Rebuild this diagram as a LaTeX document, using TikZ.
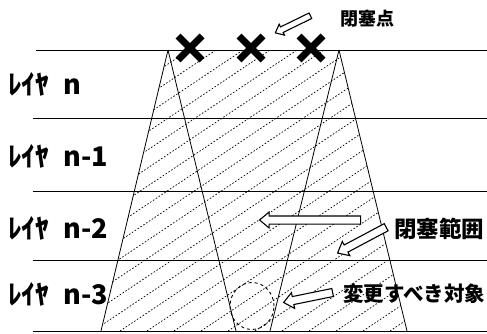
\documentclass[tikz,border=0pt]{standalone}
\usepackage{fontspec}
\newfontfamily\jp{Noto Sans CJK JP}
\usetikzlibrary{shapes.arrows,shapes.geometric}
\begin{document}
\begin{tikzpicture}[x=1pt,y=-1pt,
  layerline/.style={line width=0.8pt},
  edge/.style={line width=0.8pt},
  hatch/.style={line width=0.7pt,dash pattern=on 1.6pt off 1.8pt},
  xmark/.style={line width=7pt},
  hollow/.style={single arrow,draw,fill=white,line width=1.1pt,inner xsep=0pt,
    single arrow tip angle=80},
  lab/.style={anchor=west,inner sep=0pt,font=\jp\bfseries\fontsize{27}{30}\selectfont},
  note/.style={anchor=west,inner sep=0pt}]
\useasboundingbox (0,0) rectangle (487,334);
% trapezoid corners
\coordinate (TL) at (168,50);
\coordinate (TR) at (339,50);
\coordinate (BL) at (101,331);
\coordinate (BR) at (407,331);
\coordinate (BIL) at (236,331);
\coordinate (BIR) at (270,331);
% hatching
\begin{scope}
  \clip (TL) -- (TR) -- (BR) -- (BL) -- cycle;
  \foreach \c in {-420,-393,...,420}
    \draw[hatch] (\c,331) -- ++(420,-281);
\end{scope}
% layer lines
\foreach \y/\xs [count=\i] in {50/36,118/33,191/33,260/33,331/33}{
  \coordinate (L\i a) at (\xs,\y);
  \coordinate (L\i b) at (487,\y);
  \draw[layerline] (L\i a) -- (L\i b);
}
% trapezoid edges
\draw[edge] (TL) -- (BL);
\draw[edge] (TL) -- (BIL);
\draw[edge] (TR) -- (BR);
\draw[edge] (TR) -- (BIR);
% crosses
\foreach \cx [count=\i] in {190,251,311}{
  \coordinate (X\i) at (\cx,48);
  \draw[xmark] ([shift={(-12,-12)}]X\i) -- ([shift={(12,12)}]X\i);
  \draw[xmark] ([shift={(-12,12)}]X\i) -- ([shift={(12,-12)}]X\i);
}
% dashed circle
\node[draw,dashed,line width=0.9pt,ellipse,minimum width=44pt,minimum height=47pt,inner sep=0pt] (obj) at (252,306) {};
% hollow arrows
\node[hollow,inner ysep=2.5pt,single arrow head extend=3pt,minimum height=39pt,rotate=206] (a1) at (294.5,23.5) {};
\node[hollow,inner ysep=3.5pt,single arrow head extend=4pt,minimum height=101pt,rotate=180] (a2) at (312.5,220) {};
\node[hollow,inner ysep=3.5pt,single arrow head extend=4pt,minimum height=55pt,rotate=208] (a3) at (364,239) {};
\node[hollow,inner ysep=3.5pt,single arrow head extend=4pt,minimum height=50pt,rotate=191.5] (a4) at (310.5,297) {};
% labels
\node[lab] (ln)  at (8,84)  {ﾚｲﾔ\hspace{0.55em}n};
\node[lab] (ln1) at (8,156) {ﾚｲﾔ\hspace{0.55em}n-1};
\node[lab] (ln2) at (8,228) {ﾚｲﾔ\hspace{0.55em}n-2};
\node[lab] (ln3) at (8,294) {ﾚｲﾔ\hspace{0.55em}n-3};
\node[note,font=\jp\bfseries\fontsize{18}{21}\selectfont] (t1) at (340,19) {閉塞点};
\node[note,font=\jp\bfseries\fontsize{22.5}{25}\selectfont] (t2) at (394,229) {閉塞範囲};
\node[note,font=\jp\bfseries\fontsize{20.5}{23}\selectfont] (t3) at (343,294) {変更すべき対象};
\end{tikzpicture}
\end{document}
